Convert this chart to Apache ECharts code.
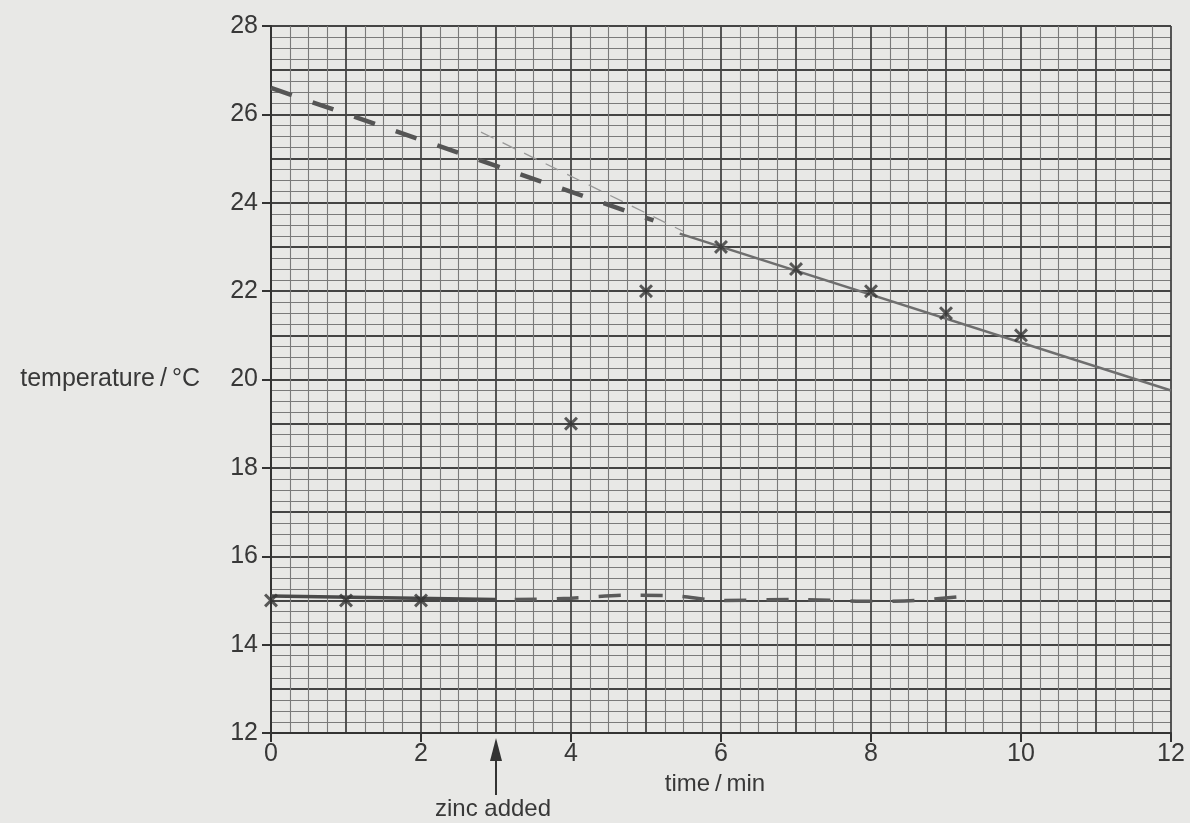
<!DOCTYPE html>
<html>
<head>
<meta charset="utf-8">
<script src="https://cdn.jsdelivr.net/npm/echarts@6/dist/echarts.min.js"></script>
<style>
html,body{margin:0;padding:0;background:#e8e8e6;}
#chart{width:1190px;height:823px;}
</style>
</head>
<body>
<div id="chart"></div>
<script>
// tick labels
var xTicks = [0, 2, 4, 6, 8, 10, 12]
var yTicks = [12, 14, 16, 18, 20, 22, 24, 26, 28]

// measured points (crosses)
var timeMin = [0, 1, 2, 4, 5, 6, 7, 8, 9, 10]
var tempC = [15, 15, 15, 19, 22, 23, 22.5, 22, 21.5, 21]

// hand drawn lines
var baseSolid = [[0, 15.1], [3, 15.02]]
var baseDashed = [[3.25, 15.02], [4, 15.05], [4.8, 15.12], [5.4, 15.1], [6, 15], [7, 15.02], [8, 14.98], [8.6, 15.0], [9.15, 15.08]]
var coolSolid = [[5.45, 23.3], [12, 19.75]]
var coolThin = [[2.8, 25.6], [5.5, 23.35]]
var coolExtrap = [[0, 26.6], [5.1, 23.6]]
var zincTime = 3

var ink = '#383838'
var font = 'Liberation Sans'
var crossPath = 'path://M0,1.5L1.5,0L5,3.5L8.5,0L10,1.5L6.5,5L10,8.5L8.5,10L5,6.5L1.5,10L0,8.5L3.5,5Z'

var points = timeMin.map(function (t, i) { return [t, tempC[i]] })

var chart = echarts.init(document.getElementById('chart'))

function gridAxis(min, max, pos) {
    return {
        type: 'value', position: pos, min: min, max: max, interval: 1,
        axisLine: { show: false }, axisTick: { show: false }, axisLabel: { show: false },
        splitLine: { show: true, lineStyle: { color: '#444', width: 1.8 } },
        minorTick: { show: false, splitNumber: 4 },
        minorSplitLine: { show: true, lineStyle: { color: '#7a7a7a', width: 1.1 } }
    }
}

var option = {
    backgroundColor: '#e8e8e6',
    animation: false,
    grid: { left: 271, right: 19, top: 26, bottom: 90 },
    xAxis: [
        {
            type: 'value', position: 'bottom',
            min: xTicks[0], max: xTicks[xTicks.length - 1], interval: 2,
            name: 'time\u2009/\u2009min', nameLocation: 'middle', nameGap: 28,
            nameTextStyle: { color: ink, fontFamily: font, fontSize: 24, padding: [0, 12, 0, 0] },
            axisLine: { show: true, lineStyle: { color: '#333', width: 2 } },
            axisTick: { show: true, inside: false, length: 9, lineStyle: { color: '#333', width: 2 } },
            axisLabel: { color: ink, fontFamily: font, fontSize: 25, margin: 9 },
            splitLine: { show: false }
        },
        gridAxis(xTicks[0], xTicks[xTicks.length - 1], 'top')
    ],
    yAxis: [
        {
            type: 'value', position: 'left',
            min: yTicks[0], max: yTicks[yTicks.length - 1], interval: 2,
            name: 'temperature\u2009/\u2009°C', nameLocation: 'middle', nameGap: 71, nameRotate: 0,
            nameTextStyle: { color: ink, fontFamily: font, fontSize: 25, align: 'right' },
            axisLine: { show: true, lineStyle: { color: '#333', width: 2 } },
            axisTick: { show: true, inside: false, length: 9, lineStyle: { color: '#333', width: 2 } },
            axisLabel: { color: ink, fontFamily: font, fontSize: 25, margin: 13 },
            splitLine: { show: false }
        },
        gridAxis(yTicks[0], yTicks[yTicks.length - 1], 'right')
    ],
    series: [
        {
            type: 'line', data: coolExtrap, symbol: 'none', silent: true,
            lineStyle: { color: '#555', width: 4.5, type: [22, 22] }
        },
        {
            type: 'line', data: coolThin, symbol: 'none', silent: true,
            lineStyle: { color: '#999', width: 1.3, type: [14, 10] }
        },
        {
            type: 'line', data: coolSolid, symbol: 'none', silent: true,
            lineStyle: { color: '#6e6e6e', width: 2.5 }
        },
        {
            type: 'line', data: baseSolid, symbol: 'none', silent: true,
            lineStyle: { color: '#4a4a4a', width: 3.5 }
        },
        {
            type: 'line', data: baseDashed, symbol: 'none', silent: true, smooth: 0.3,
            lineStyle: { color: '#5a5a5a', width: 3.5, type: [22, 20] }
        },
        {
            type: 'scatter', data: points, symbol: crossPath, symbolSize: 14,
            itemStyle: { color: '#333' }, z: 5
        }
    ]
}

chart.setOption(option)

// "zinc added" arrow under the x axis
var ax = chart.convertToPixel({ xAxisIndex: 0 }, zincTime)
var ay = chart.convertToPixel({ yAxisIndex: 0 }, yTicks[0])
chart.setOption({
    graphic: [
        {
            type: 'polygon', silent: true,
            shape: { points: [[ax, ay + 5], [ax - 6, ay + 28], [ax + 6, ay + 28]] },
            style: { fill: '#333' }
        },
        {
            type: 'line', silent: true,
            shape: { x1: ax, y1: ay + 26, x2: ax, y2: ay + 62 },
            style: { stroke: '#333', lineWidth: 2 }
        },
        {
            type: 'text', silent: true, x: ax - 3, y: ay + 76,
            style: { text: 'zinc added', fill: ink, font: '24px "Liberation Sans"', align: 'center', verticalAlign: 'middle' }
        }
    ]
})
</script>
</body>
</html>
